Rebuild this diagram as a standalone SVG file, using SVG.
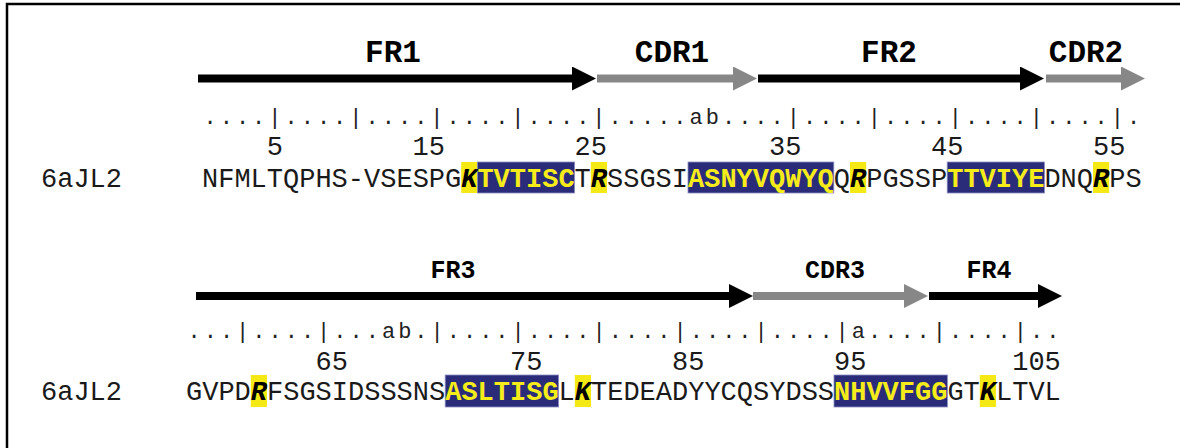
<svg xmlns="http://www.w3.org/2000/svg" width="1180" height="448" viewBox="0 0 1180 448">
  <style>
    .mono { font-family: "Liberation Mono", "Courier New", monospace; fill: #1a1a1a; }
    .seq { font-size: 27px; }
    .num { font-size: 27px; text-anchor: end; }
    .ruler { font-size: 22px; letter-spacing: 3px; fill: #222; }
    .lab1 { font-family: "Liberation Mono", "Courier New", monospace; font-weight: bold; font-size: 31px; text-anchor: middle; fill: #000; }
    .lab2 { font-family: "Liberation Mono", "Courier New", monospace; font-weight: bold; font-size: 25px; text-anchor: middle; fill: #000; }
    .hi { fill: #f4e915; }
    .box { fill: #2a2c7a; stroke: #8a8cc0; stroke-width: 0.8; }
    .bi { font-weight: bold; font-style: italic; fill: #000; }
    .by { font-weight: bold; fill: #f6ec1a; }
    .blk { stroke: #000; stroke-width: 8; marker-end: url(#hb); }
    .gry { stroke: #878787; stroke-width: 8; marker-end: url(#hg); }
  </style>
  <defs>
    <marker id="hb" markerUnits="userSpaceOnUse" markerWidth="24" markerHeight="24" refX="1" refY="12" orient="auto" viewBox="0 0 24 24">
      <path d="M0,0 L24,12 L0,24 z" fill="#000"/>
    </marker>
    <marker id="hg" markerUnits="userSpaceOnUse" markerWidth="24" markerHeight="24" refX="1" refY="12" orient="auto" viewBox="0 0 24 24">
      <path d="M0,0 L24,12 L0,24 z" fill="#878787"/>
    </marker>
  </defs>

  <rect x="0" y="0" width="1180" height="448" fill="#fff"/>
  <rect id="frame" x="7" y="4" width="1200" height="500" fill="none" stroke="#000" stroke-width="2.5"/>

  <!-- Row 1 region arrows -->
  <g id="row1-regions">
    <line class="blk" x1="198" y1="78.5" x2="573" y2="78.5"/>
    <line class="gry" x1="597" y1="78.5" x2="734" y2="78.5"/>
    <line class="blk" x1="758" y1="78.5" x2="1021" y2="78.5"/>
    <line class="gry" x1="1046" y1="78.5" x2="1122" y2="78.5"/>
    <text class="lab1" x="393" y="62">FR1</text>
    <text class="lab1" x="672" y="62">CDR1</text>
    <text class="lab1" x="889" y="62">FR2</text>
    <text class="lab1" x="1086" y="62">CDR2</text>
  </g>

  <!-- Row 1 ruler and numbers -->
  <g id="row1-ruler">
    <text class="mono ruler" x="203.5" y="123.5">....|....|....|....|....|.....ab....|....|....|....|....|.</text>
    <text class="mono num" x="283" y="155">5</text>
    <text class="mono num" x="445" y="155">15</text>
    <text class="mono num" x="607" y="155">25</text>
    <text class="mono num" x="801.4" y="155">35</text>
    <text class="mono num" x="963.4" y="155">45</text>
    <text class="mono num" x="1125.4" y="155">55</text>
  </g>

  <!-- Row 1 sequence -->
  <g id="row1-seq">
    <rect class="hi" x="461.2" y="162" width="16.2" height="31"/>
    <rect class="box" x="477.4" y="162" width="97.2" height="31"/>
    <rect class="hi" x="590.8" y="162" width="16.2" height="31"/>
    <rect class="box" x="688" y="162" width="145.8" height="31"/>
    <rect class="hi" x="850" y="162" width="16.2" height="31"/>
    <rect class="box" x="947.2" y="162" width="97.2" height="31"/>
    <rect class="hi" x="1093" y="162" width="16.2" height="31"/>
    <text class="mono seq" x="41" y="187">6aJL2</text>
    <text class="mono seq" y="187"><tspan x="202">NFMLTQPHS-VSESPG</tspan><tspan x="461.2" class="bi">K</tspan><tspan x="477.4" class="by">TVTISC</tspan><tspan x="574.6">T</tspan><tspan x="590.8" class="bi">R</tspan><tspan x="607">SSGSI</tspan><tspan x="688" class="by">ASNYVQWYQ</tspan><tspan x="833.8">Q</tspan><tspan x="850" class="bi">R</tspan><tspan x="866.2">PGSSP</tspan><tspan x="947.2" class="by">TTVIYE</tspan><tspan x="1044.4">DNQ</tspan><tspan x="1093" class="bi">R</tspan><tspan x="1109.2">PS</tspan></text>
  </g>

  <!-- Row 2 region arrows -->
  <g id="row2-regions">
    <line class="blk" x1="196" y1="296" x2="730" y2="296"/>
    <line class="gry" x1="753" y1="296" x2="905" y2="296"/>
    <line class="blk" x1="929" y1="296" x2="1039" y2="296"/>
    <text class="lab2" x="453" y="278">FR3</text>
    <text class="lab2" x="835" y="278">CDR3</text>
    <text class="lab2" x="989" y="278">FR4</text>
  </g>

  <!-- Row 2 ruler and numbers -->
  <g id="row2-ruler">
    <text class="mono ruler" x="187.5" y="337.5">...|....|...ab.|....|....|....|....|....|a....|....|..</text>
    <text class="mono num" x="348" y="370">65</text>
    <text class="mono num" x="542.4" y="370">75</text>
    <text class="mono num" x="704.4" y="370">85</text>
    <text class="mono num" x="866.4" y="370">95</text>
    <text class="mono num" x="1060.8" y="370">105</text>
  </g>

  <!-- Row 2 sequence -->
  <g id="row2-seq">
    <rect class="hi" x="250.8" y="375" width="16.2" height="32"/>
    <rect class="box" x="445.2" y="375" width="113.4" height="32"/>
    <rect class="hi" x="574.8" y="375" width="16.2" height="32"/>
    <rect class="box" x="834" y="375" width="113.4" height="32"/>
    <rect class="hi" x="979.8" y="375" width="16.2" height="32"/>
    <text class="mono seq" x="41" y="400">6aJL2</text>
    <text class="mono seq" y="400"><tspan x="186">GVPD</tspan><tspan x="250.8" class="bi">R</tspan><tspan x="267">FSGSIDSSSNS</tspan><tspan x="445.2" class="by">ASLTISG</tspan><tspan x="558.6">L</tspan><tspan x="574.8" class="bi">K</tspan><tspan x="591">TEDEADYYCQSYDSS</tspan><tspan x="834" class="by">NHVVFGG</tspan><tspan x="947.4">GT</tspan><tspan x="979.8" class="bi">K</tspan><tspan x="996">LTVL</tspan></text>
  </g>
</svg>
